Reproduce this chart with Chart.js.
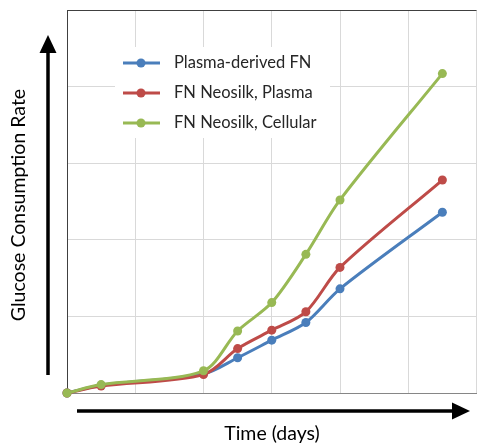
<!DOCTYPE html>
<html>
<head>
<meta charset="utf-8">
<script src="https://cdn.jsdelivr.net/npm/chart.js@4"></script>
<style>
  html, body { margin: 0; padding: 0; background: #fff; overflow: hidden; }
  canvas { display: block; }
</style>
</head>
<body>
<canvas id="chart" width="481" height="443"></canvas>
<script>
// time points (days) and glucose consumption readings
const days = [0, 1, 4, 5, 6, 7, 8, 11];
const plasmaDerived = [0, 0.10, 0.25, 0.46, 0.69, 0.92, 1.36, 2.36];
const neosilkPlasma = [0, 0.09, 0.24, 0.58, 0.82, 1.06, 1.64, 2.78];
const neosilkCellular = [0, 0.11, 0.29, 0.81, 1.18, 1.81, 2.52, 4.17];
const seriesNames = ['Plasma-derived FN', 'FN Neosilk, Plasma', 'FN Neosilk, Cellular'];
const seriesColors = ['#4a7ebb', '#be4b48', '#98b954'];
const xTitle = 'Time (days)';
const yTitle = 'Glucose Consumption Rate';

const FONT = 'Lato, "Open Sans", sans-serif';

function toPoints(vals) {
    return vals.map((v, i) => ({ x: days[i], y: v }));
}

function makeSet(i, vals, order) {
    return {
        label: seriesNames[i],
        data: toPoints(vals),
        borderColor: seriesColors[i],
        backgroundColor: seriesColors[i],
        borderWidth: 3,
        pointRadius: 4.5,
        pointBorderWidth: 0,
        tension: 0.3,
        clip: false,
        order: order
    };
}

// legend box sitting inside the plot, plus the arrows and axis titles
const decorations = {
    id: 'decorations',
    beforeDatasetsDraw(chart) {
        const ctx = chart.ctx;
        ctx.save();
        ctx.fillStyle = '#fff';
        ctx.fillRect(115, 47, 215, 91);
        chart.data.datasets.forEach((ds, i) => {
            const y = 63 + i * 30;
            ctx.strokeStyle = ds.borderColor;
            ctx.lineWidth = 3;
            ctx.beginPath();
            ctx.moveTo(123, y);
            ctx.lineTo(160, y);
            ctx.stroke();
            ctx.fillStyle = ds.borderColor;
            ctx.beginPath();
            ctx.arc(141, y, 4.5, 0, Math.PI * 2);
            ctx.fill();
            ctx.fillStyle = '#262626';
            ctx.font = '16.5px ' + FONT;
            ctx.textBaseline = 'middle';
            ctx.textAlign = 'left';
            ctx.fillText(ds.label, 174, y);
        });
        ctx.restore();
    },
    afterDraw(chart) {
        const ctx = chart.ctx;
        const a = chart.chartArea;
        ctx.save();
        // top frame line
        ctx.strokeStyle = '#404040';
        ctx.lineWidth = 1;
        ctx.beginPath();
        ctx.moveTo(a.left, a.top + 0.5);
        ctx.lineTo(a.right, a.top + 0.5);
        ctx.stroke();

        ctx.fillStyle = '#000';
        ctx.strokeStyle = '#000';
        ctx.lineWidth = 3.5;
        // y arrow
        ctx.beginPath();
        ctx.moveTo(48, 375);
        ctx.lineTo(48, 50);
        ctx.stroke();
        ctx.beginPath();
        ctx.moveTo(48, 35);
        ctx.lineTo(39.5, 53);
        ctx.lineTo(56.5, 53);
        ctx.closePath();
        ctx.fill();
        // x arrow
        ctx.beginPath();
        ctx.moveTo(77, 411);
        ctx.lineTo(455, 411);
        ctx.stroke();
        ctx.beginPath();
        ctx.moveTo(470, 411);
        ctx.lineTo(452, 402.5);
        ctx.lineTo(452, 419.5);
        ctx.closePath();
        ctx.fill();

        ctx.fillStyle = '#000';
        ctx.font = '19.5px ' + FONT;
        ctx.textAlign = 'center';
        ctx.textBaseline = 'alphabetic';
        ctx.fillText(xTitle, 272, 440);
        ctx.translate(25, 205);
        ctx.rotate(-Math.PI / 2);
        ctx.fillText(yTitle, 0, 0);
        ctx.restore();
    }
};

new Chart(document.getElementById('chart'), {
    type: 'line',
    data: {
        datasets: [
            makeSet(0, plasmaDerived, 3),
            makeSet(1, neosilkPlasma, 2),
            makeSet(2, neosilkCellular, 1)
        ]
    },
    options: {
        responsive: false,
        animation: false,
        devicePixelRatio: 1,
        layout: { padding: { left: 67, top: 10, right: 0, bottom: 50 } },
        plugins: {
            legend: { display: false },
            tooltip: { enabled: false }
        },
        scales: {
            x: {
                type: 'linear',
                min: 0,
                max: 12,
                ticks: { display: false, stepSize: 2 },
                grid: { color: '#d9d9d9', drawTicks: false },
                border: { color: '#868686' }
            },
            y: {
                min: 0,
                max: 5,
                ticks: { display: false, stepSize: 1 },
                grid: { color: '#d9d9d9', drawTicks: false },
                border: { color: '#404040' }
            }
        }
    },
    plugins: [decorations]
});
</script>
</body>
</html>
